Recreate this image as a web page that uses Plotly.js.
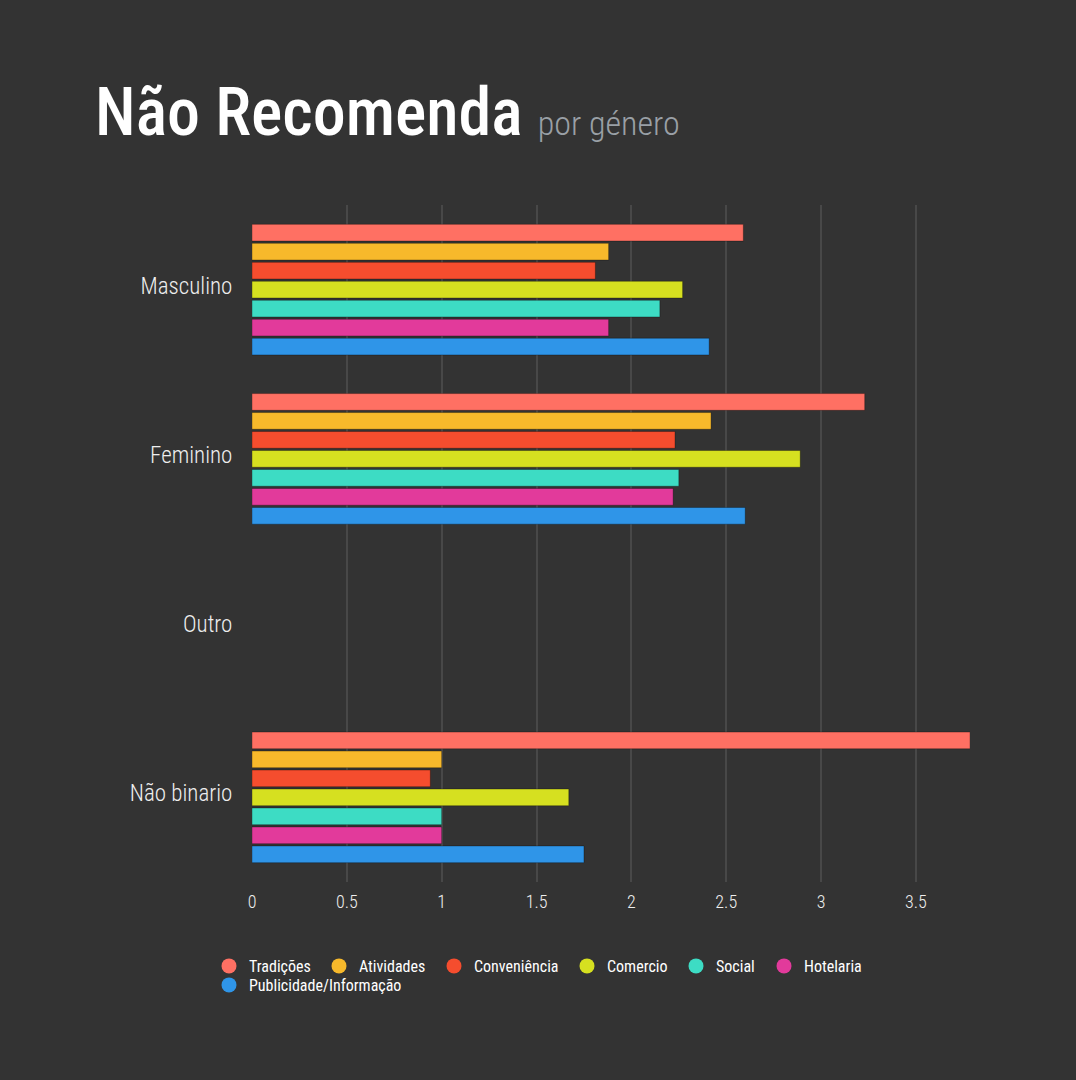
<!DOCTYPE html>
<html>
<head>
<meta charset="utf-8">
<script src="https://cdn.plot.ly/plotly-3.0.1.min.js"></script>
<style>html,body{margin:0;padding:0;background:#333333;}</style>
</head>
<body>
<div id="chart" style="width:1076px;height:1080px;"></div>
<script>
const categories = ["Masculino", "Feminino", "Outro", "Não binario"];
const seriesNames = ["Tradições", "Atividades", "Conveniência", "Comercio", "Social", "Hotelaria", "Publicidade/Informação"];
const tradicoes = [2.59, 3.23, null, 3.785];
const atividades = [1.88, 2.42, null, 1.0];
const conveniencia = [1.81, 2.23, null, 0.94];
const comercio = [2.27, 2.89, null, 1.67];
const social = [2.15, 2.25, null, 1.0];
const hotelaria = [1.88, 2.22, null, 1.0];
const publicidade = [2.41, 2.60, null, 1.75];
const colors = ["#ff7063", "#f7b92b", "#f54d2e", "#d6e020", "#3ddcc4", "#e23a9b", "#2f95e8"];

const seriesValues = [tradicoes, atividades, conveniencia, comercio, social, hotelaria, publicidade];
const FONT = "'Roboto Condensed', 'Liberation Sans Narrow', 'DejaVu Sans Condensed', sans-serif";

// legend entry placement (pixels in the page): marker centre x, row centre y
const legendMarkerX = [230, 340, 455, 588, 697, 785, 230];
const legendRowY = [965, 965, 965, 965, 965, 965, 984];

const traces = [];
seriesValues.forEach((vals, i) => {
  traces.push({
    type: "bar", orientation: "h", name: seriesNames[i],
    y: categories, x: vals, showlegend: false,
    marker: {color: colors[i], line: {color: "rgba(0,0,0,0.3)", width: 1}},
    hoverinfo: "x+name"
  });
});
seriesNames.forEach((n, i) => {
  traces.push({
    type: "scatter", mode: "markers", name: n, x: [null], y: [null],
    marker: {color: colors[i], size: 15, symbol: "circle"}, showlegend: true, hoverinfo: "skip",
    legend: i === 0 ? "legend" : "legend" + (i + 1)
  });
});

const layout = {
  width: 1076, height: 1080,
  paper_bgcolor: "#333333", plot_bgcolor: "#333333",
  margin: {l: 252, r: 106, t: 205, b: 198},
  barmode: "group", bargap: 0.215, bargroupgap: 0.12,
  font: {family: FONT, color: "#ffffff"},
  title: {
    text: "Não Recomenda <span style='font-size:34px;color:#9aa0a6;font-weight:300'>por género</span>",
    font: {family: FONT, size: 66, color: "#ffffff", weight: 500},
    x: 95/1076, xanchor: "left", xref: "container",
    y: 1 - 112/1080, yanchor: "middle", yref: "container"
  },
  xaxis: {
    range: [0, 3.785], showgrid: true, gridcolor: "#484848", gridwidth: 2,
    zeroline: false, showline: false,
    ticks: "outside", ticklen: 3, tickcolor: "rgba(0,0,0,0)", tickwidth: 1,
    dtick: 0.5, tickfont: {size: 18, color: "#eeeeee", family: FONT, weight: 300}
  },
  yaxis: {
    autorange: "reversed", type: "category", showgrid: false, zeroline: false,
    ticks: "outside", ticklen: 14, tickcolor: "rgba(0,0,0,0)",
    ticklabelshift: 4,
    tickfont: {size: 23, color: "#eeeeee", family: FONT, weight: 300}
  },
  showlegend: true
};

seriesNames.forEach((n, i) => {
  const key = i === 0 ? "legend" : "legend" + (i + 1);
  layout[key] = {
    orientation: "h", xanchor: "left", xref: "container", yanchor: "top", yref: "container",
    x: (legendMarkerX[i] - 21) / 1076, y: 1 - (legendRowY[i] - 16) / 1080,
    font: {size: 16, color: "#ffffff", family: FONT},
    bgcolor: "rgba(0,0,0,0)"
  };
});

Plotly.newPlot("chart", traces, layout, {displayModeBar: false});
</script>
</body>
</html>
